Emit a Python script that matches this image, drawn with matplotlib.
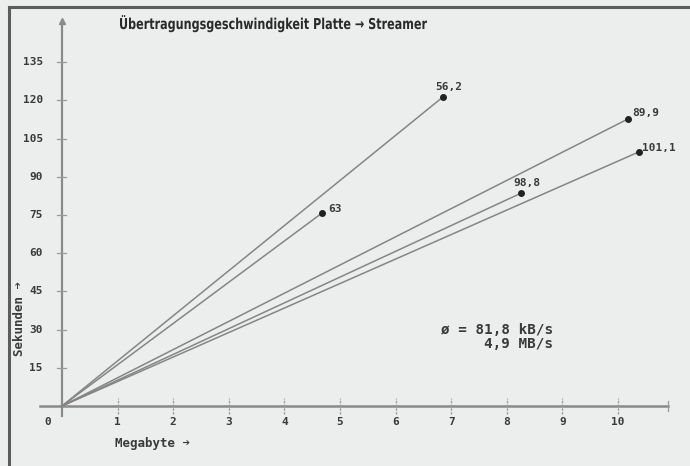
import matplotlib.pyplot as plt
from matplotlib.lines import Line2D
from matplotlib.textpath import TextPath
from matplotlib.patches import PathPatch
from matplotlib.font_manager import FontProperties
from matplotlib.transforms import Affine2D, IdentityTransform

# Messwerte: Datenmenge (MB), Zeit (s) und Rate (kB/s) je Sicherung
megabyte = [6.85, 4.68, 10.18, 8.26, 10.38]
seconds = [121.3, 75.8, 112.7, 83.6, 99.8]
rate_labels = ["56,2", "63", "89,9", "98,8", "101,1"]
label_offsets = [(-8, 10), (6, 4), (4, 6), (-8, 10), (3, 4)]

x_ticks = [1, 2, 3, 4, 5, 6, 7, 8, 9, 10]
y_ticks = [15, 30, 45, 60, 75, 90, 105, 120, 135]

avg_rate = "81,8 kB/s"
avg_total = "4,9 MB/s"
title = "Übertragungsgeschwindigkeit Platte → Streamer"

bg = "#eceeed"
line_col = "#858585"
text_col = "#3a3a3a"
mono = ["DejaVu Sans Mono", "DejaVu Sans"]

W, H = 690, 466
fig = plt.figure(figsize=(W / 100, H / 100), dpi=100, facecolor=bg)
ax = fig.add_axes([0, 0, 1, 1])
ax.set_facecolor(bg)
ax.set_xlim(-1.115, 11.295)
ax.set_ylim(-23.56, 159.4)
ax.axis("off")

# Achsen
ax.plot([-0.4, 10.9], [0, 0], color="#8a8a8a", lw=1.8, zorder=2)
ax.plot([0, 0], [-4, 151], color="#8a8a8a", lw=1.6, zorder=2)
ax.plot([0], [151], marker="^", ms=4, color="#8a8a8a", zorder=2)
ax.plot([10.9, 10.9], [-2, 2], color="#9a9a9a", lw=0.9)

for t in x_ticks:
    ax.plot([t, t], [-3, 3], color="#9a9a9a", lw=0.9, ls=(0, (2, 1)))
    ax.annotate(str(t), (t, 0), xytext=(0, -16), textcoords="offset pixels",
                ha="center", va="center", fontsize=8, fontweight="bold",
                family=mono, color=text_col)
ax.annotate("0", (0, 0), xytext=(-14, -16), textcoords="offset pixels",
            ha="center", va="center", fontsize=8, fontweight="bold",
            family=mono, color=text_col)

for v in y_ticks:
    ax.plot([-0.09, 0.07], [v, v], color="#9a9a9a", lw=0.9)
    ax.annotate(str(v), (0, v), xytext=(-19, 0), textcoords="offset pixels",
                ha="right", va="center", fontsize=8, fontweight="bold",
                family=mono, color=text_col)

# Geraden vom Ursprung zu jedem Messpunkt
for mb, s, lab, off in zip(megabyte, seconds, rate_labels, label_offsets):
    ax.plot([0, mb], [0, s], color=line_col, lw=1.1, zorder=3)
    ax.plot([mb], [s], "o", ms=4, color="#222222", zorder=4)
    ax.annotate(lab, (mb, s), xytext=off, textcoords="offset pixels",
                ha="left", va="center", fontsize=8, fontweight="bold",
                family=mono, color=text_col)

# Titel in schmaler Schrift: Textpfad horizontal gestaucht
fp = FontProperties(family="DejaVu Sans", weight="bold")
tp = TextPath((0, 0), title, size=15, prop=fp)
ext = tp.get_extents()
sx = 307 / ext.width
tr = Affine2D().translate(-ext.x0, 0).scale(sx, 1.0).translate(120, H - 29)
fig.add_artist(PathPatch(tp, transform=tr + IdentityTransform(),
                         facecolor="#2a2a2a", edgecolor="none"))

fig.text(115 / W, 1 - 444 / H, "Megabyte ➔", ha="left", va="center",
         fontsize=9, fontweight="bold", family=mono, color=text_col)
fig.text(20 / W, 1 - 318 / H, "Sekunden ➔", rotation=90, ha="center",
         va="center", fontsize=9, fontweight="bold", family=mono,
         color=text_col)

fig.text(553 / W, 1 - 330 / H, "ø = " + avg_rate, ha="right", va="center",
         fontsize=10.3, fontweight="bold", family=mono, color=text_col)
fig.text(553 / W, 1 - 344 / H, avg_total, ha="right", va="center",
         fontsize=10.3, fontweight="bold", family=mono, color=text_col)

# Rahmen oben und links
fig.add_artist(Line2D([9 / W, 9 / W], [0, 1 - 7 / H],
                      transform=fig.transFigure, color="#5c5c5c", lw=2.2))
fig.add_artist(Line2D([9 / W, 1], [1 - 7 / H, 1 - 7 / H],
                      transform=fig.transFigure, color="#5c5c5c", lw=2.2))

fig.savefig("out.png", dpi=100, facecolor=bg)
